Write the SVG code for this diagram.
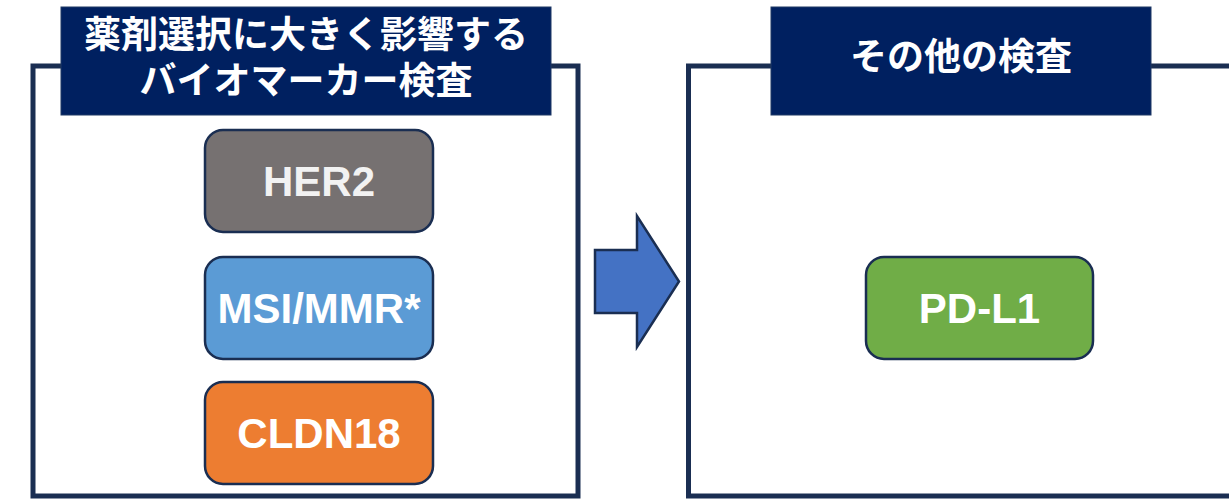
<svg xmlns="http://www.w3.org/2000/svg" width="1229" height="499" viewBox="0 0 1229 499">
  <style>
    .frame { fill: #FFFFFF; stroke: #1A2E52; stroke-width: 5; }
    .header { fill: #002060; stroke: #1F3864; stroke-width: 1; }
    .htext { font-family: "Liberation Sans", "Noto Sans CJK JP", sans-serif; font-weight: bold; font-size: 37px; fill: #FFFFFF; text-anchor: middle; }
    .box { stroke: #1A2E52; stroke-width: 2.5; }
    .btext { font-family: "Liberation Sans", Arial, sans-serif; font-weight: bold; font-size: 42px; fill: #FFFFFF; text-anchor: middle; }
  </style>
  <rect width="1229" height="499" fill="#FFFFFF"/>

  <g id="frame-left">
    <rect class="frame" x="33" y="66" width="545" height="430"/>
  </g>
  <g id="frame-right">
    <rect class="frame" x="688.5" y="66" width="620" height="430"/>
  </g>

  <g id="header-left">
    <rect class="header" x="61" y="7" width="490" height="108"/>
    <text class="htext" x="306" y="48">薬剤選択に大きく影響する</text>
    <text class="htext" x="306" y="94">バイオマーカー検査</text>
  </g>

  <g id="header-right">
    <rect class="header" x="771" y="7" width="380" height="108"/>
    <text class="htext" x="961" y="70">その他の検査</text>
  </g>

  <g id="node-her2">
    <rect class="box" x="205" y="130" width="228" height="102" rx="18" fill="#767171"/>
    <text class="btext" x="319" y="196" style="fill:#F2F2F2">HER2</text>
  </g>

  <g id="node-msi">
    <rect class="box" x="205" y="257" width="228" height="102" rx="18" fill="#5B9BD5"/>
    <text class="btext" x="319" y="323">MSI/MMR*</text>
  </g>

  <g id="node-cldn18">
    <rect class="box" x="205" y="382" width="228" height="102" rx="18" fill="#ED7D31"/>
    <text class="btext" x="319" y="448">CLDN18</text>
  </g>

  <g id="node-pdl1">
    <rect class="box" x="866" y="257" width="227" height="102" rx="18" fill="#70AD47"/>
    <text class="btext" x="979.5" y="323">PD-L1</text>
  </g>

  <g id="connectors">
    <polygon points="595,250 637,250 637,216 679,281.5 637,347 637,313 595,313" fill="#4472C4" stroke="#1A2E52" stroke-width="2.5" stroke-linejoin="miter"/>
  </g>
</svg>
